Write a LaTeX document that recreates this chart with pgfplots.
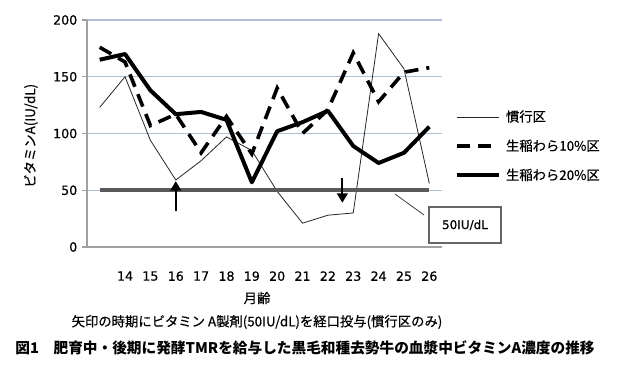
\documentclass[border=0pt]{standalone}
\usepackage{fontspec}
\setmainfont{Noto Sans CJK JP}
\newfontfamily\num[FakeBold=0.6]{DejaVu Sans}
\newfontfamily\jpm[FakeBold=0.5]{Noto Sans CJK JP}
\usepackage{pgfplots}
\pgfplotsset{compat=1.18}
\usetikzlibrary{arrows.meta}
\definecolor{gridblue}{RGB}{176,192,214}
\definecolor{axisgray}{RGB}{160,160,160}
\definecolor{refgray}{RGB}{90,90,90}

\pgfplotstableread{
x kanko ine10 ine20 ref
0 123 176 165 50
1 150 163 170 50
2 94 107 138 50
3 59 117 117 50
4 76 83 119 50
5 97 115 112 50
6 85 82 57 50
7 49 140 102 50
8 21 100 110 50
9 28 121 120 50
10 30 171 89 50
11 188 128 74 50
12 157 154 83 50
13 56 158 106 50
}\data

\begin{document}
\begin{tikzpicture}
\path[use as bounding box] (0,0) rectangle (462.75pt,278.25pt);
\begin{axis}[
  at={(65.25pt,93pt)}, anchor=south west,
  scale only axis, width=266.25pt, height=170.25pt,
  xmin=-0.5, xmax=13.5, ymin=0, ymax=200,
  axis x line*=bottom, axis y line*=left,
  axis line style={draw=axisgray, line width=0.8pt, -},
  xtick={1,2,3,4,5,6,7,8,9,10,11,12,13},
  xticklabels={14,15,16,17,18,19,20,21,22,23,24,25,26},
  x tick style={draw=none},
  extra x ticks={-0.5,4.5,9.5,13.5},
  extra x tick labels={},
  extra x tick style={tick align=outside, major tick length=3.5pt, tick style={draw=axisgray, line width=0.8pt}, grid=none},
  ytick={0,50,100,150,200},
  y tick style={draw=axisgray, line width=0.8pt},
  tick align=outside, major tick length=3.75pt,
  ymajorgrids, grid style={draw=gridblue, line width=0.8pt},
  /pgf/number format/assume math mode=true,
  ticklabel style={font=\num\fontsize{9.5}{11}\selectfont},
  xticklabel style={yshift=-11pt},
  ylabel={ビタミンA(IU/dL)},
  ylabel style={at={(axis description cs:-0.158,0.49)}, anchor=center, font=\jpm\fontsize{10}{12}\selectfont},
  xlabel={月齢},
  xlabel style={at={(axis description cs:0.479,-0.225)}, anchor=center, font=\jpm\fontsize{10}{12}\selectfont},
  legend style={at={(axis description cs:1.035,0.615)}, anchor=north west, draw=none, fill=none,
    font=\jpm\fontsize{10}{12}\selectfont, row sep=8pt, inner sep=0pt},
  legend cell align=left,
  legend image code/.code={\draw[#1] (0pt,0pt) -- (31.5pt,0pt);},
  legend style={nodes={inner xsep=4pt}},
  clip=false,
]
\addplot[black!85, line width=0.6pt] table[x=x,y=kanko] {\data};
\addlegendentry{慣行区}
\addplot[black, line width=2.7pt, dash pattern=on 10pt off 6pt] table[x=x,y=ine10] {\data};
\addlegendentry{生稲わら10\%区}
\addplot[black, line width=3pt, line join=round] table[x=x,y=ine20] {\data};
\addlegendentry{生稲わら20\%区}
\addplot[refgray, line width=3pt, forget plot] table[x=x,y=ref] {\data};
\draw[black, line width=1.5pt, -{Triangle[length=7pt,width=8pt]}] (axis cs:3,32) -- (axis cs:3,58);
\draw[black, line width=1.5pt, -{Triangle[length=7pt,width=8pt]}] (axis cs:9.57,61) -- (axis cs:9.57,39);
\end{axis}
\begin{scope}[x=0.75pt,y=-0.75pt,yshift=278.25pt]
\draw[black!75, line width=0.6pt] (395,194) -- (424,215);
\draw[black!60, line width=0.8pt, fill=white] (429,207) rectangle (501,243);
\node[font=\num\fontsize{9}{11}\selectfont] at (465,225) {50IU/dL};
\node[font=\jpm\fontsize{10}{12}\selectfont] at (257,322) {矢印の時期にビタミン A製剤(50IU/dL)を経口投与(慣行区のみ)};
\node[font=\bfseries\fontsize{11}{13}\selectfont] at (305,348) {図1\hspace{1em}肥育中・後期に発酵TMRを給与した黒毛和種去勢牛の血漿中ビタミンA濃度の推移};
\end{scope}
\end{tikzpicture}
\end{document}
